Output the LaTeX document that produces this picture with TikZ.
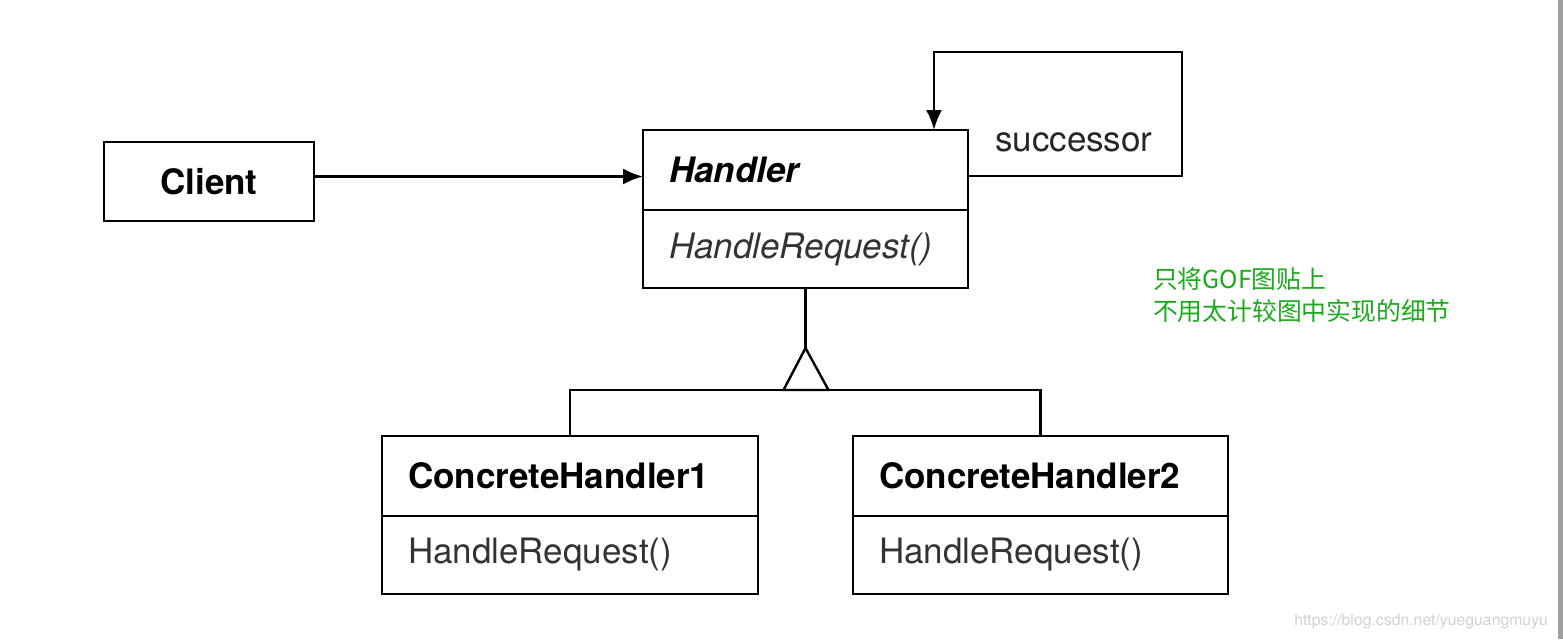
\documentclass[tikz,border=0pt]{standalone}
\usepackage{fontspec}
\setmainfont{TeX Gyre Heros}
\newfontfamily\cjk{Noto Sans CJK SC}
\usetikzlibrary{
arrows.meta,
calc,
positioning
}
\tikzset{>=Latex}
\definecolor{notegreen}{RGB}{26,170,26}
\tikzset{
  umlline/.style={line width=1.2pt},
  classbox/.style={draw, line width=1.3pt, outer sep=0pt, inner xsep=13pt, inner ysep=0pt, text width=#1, align=left, minimum height=40pt, font=\fontsize{17.5pt}{20pt}\selectfont},
  assoc/.style={umlline, -{Latex[length=10pt,width=8pt]}}
}

\begin{document}
\begin{tikzpicture}[x=0.5pt, y=-0.5pt]
		\useasboundingbox (0,0) rectangle (1563,639);
		\node[draw,line width=1.3pt,minimum width=105pt,minimum height=39.5pt,font=\fontsize{17.5pt}{20pt}\selectfont\bfseries] (client) at (209,181.5) {Client};
		
		\node[classbox=136.5pt,anchor=north west,font=\fontsize{17.5pt}{20pt}\selectfont\bfseries\itshape] (handler) at (643,130) {Handler};
		\node[classbox=136.5pt,below=0pt of handler,minimum height=39pt,font=\fontsize{17.5pt}{20pt}\selectfont\itshape,text=black!80] (handlerop) {HandleRequest()};
		
		\node[classbox=162pt,anchor=north west,font=\fontsize{17.5pt}{20pt}\selectfont\bfseries] (ch1) at (382,436) {ConcreteHandler1};
		\node[classbox=162pt,below=0pt of ch1,minimum height=39pt,text=black!80] (ch1op) {HandleRequest()};
		
		\node[classbox=161.5pt,anchor=north west,font=\fontsize{17.5pt}{20pt}\selectfont\bfseries] (ch2) at (853,436) {ConcreteHandler2};
		\node[classbox=161.5pt,below=0pt of ch2,minimum height=39pt,text=black!80] (ch2op) {HandleRequest()};
		
		\draw[assoc] ([yshift=2.5pt]client.east) -- ([yshift=2.5pt]client.east -| handler.west);
		
		% successor loop.
		\coordinate (loopr) at (1182,52);
		\coordinate (loopl) at (934,52);
		\draw[assoc] ([yshift=-3pt]handler.east) -| (loopr) -- (loopl) -- (loopl |- handler.north);
		\node[anchor=west,font=\fontsize{17.5pt}{20pt}\selectfont,text=black!85] (succ) at (988,142) {successor};
		
		% inheritance.
		\draw[umlline] (handlerop.south) -- ++(0,60) coordinate (apex);
		\draw[umlline] (apex) -- ++(-22,42) -- ++(45,0) -- cycle;
		\draw[umlline] (ch1.north) |- ([yshift=-21pt]apex) -| (ch2.north);
		
		\node[anchor=west,align=left,text=notegreen,font=\cjk\fontsize{12.4pt}{16pt}\selectfont] (note) at (1146,295) {只将GOF图贴上\\不用太计较图中实现的细节};
		\node[anchor=east,text=black!18,font=\fontsize{7.9pt}{9pt}\selectfont] (mark) at (1555,621) {https://blog.csdn.net/yueguangmuyu};
		\fill[black!38] (1558,0) rectangle (1563,639);
	\end{tikzpicture}
\end{document}
